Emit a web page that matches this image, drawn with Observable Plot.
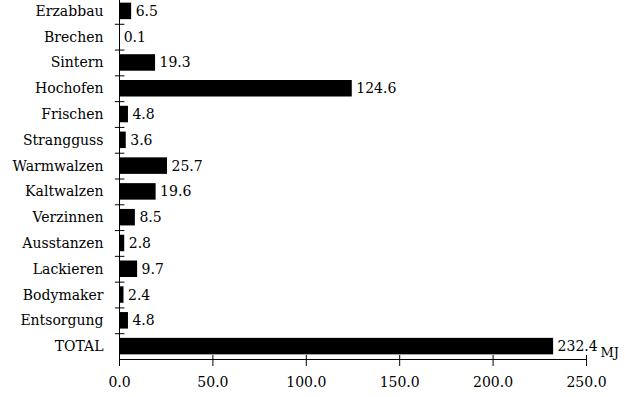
<!DOCTYPE html>
<html>
<head>
<meta charset="utf-8">
<script src="https://cdn.jsdelivr.net/npm/d3@7"></script>
<script src="https://cdn.jsdelivr.net/npm/@observablehq/plot@0.6"></script>
<style>
  html, body { margin: 0; padding: 0; background: #fff; }
  #chart svg { display: block; }
</style>
</head>
<body>
<div id="chart"></div>
<script>
const categories = ["Erzabbau", "Brechen", "Sintern", "Hochofen", "Frischen", "Strangguss", "Warmwalzen", "Kaltwalzen", "Verzinnen", "Ausstanzen", "Lackieren", "Bodymaker", "Entsorgung", "TOTAL"];
const values = [6.5, 0.1, 19.3, 124.6, 4.8, 3.6, 25.7, 19.6, 8.5, 2.8, 9.7, 2.4, 4.8, 232.4];
const xTicks = [0, 50, 100, 150, 200, 250];
const unitLabel = "MJ";

const data = categories.map((c, i) => ({category: c, value: values[i]}));

const W = 625, H = 397;
const mLeft = 119, mRight = 39, mBottom = 38, mTop = 0;
const yTop = -2, yBottom = H - mBottom;
const step = (yBottom - yTop) / categories.length;
const font = "DejaVu Serif";
const fs = 14;

const chart = Plot.plot({
  width: W,
  height: H,
  marginLeft: mLeft,
  marginRight: mRight,
  marginTop: mTop,
  marginBottom: mBottom,
  style: {fontFamily: font, fontSize: fs + "px", color: "#000", background: "#fff"},
  x: {domain: [0, 250]},
  y: {domain: categories, range: [yTop, yBottom], paddingInner: 0.36, paddingOuter: 0.18, round: false},
  marks: [
    Plot.barX(data, {x: "value", y: "category", fill: "#000"}),
    Plot.text(data, {x: "value", y: "category", text: d => d.value.toFixed(1), dx: 4, textAnchor: "start", fill: "#000", fontSize: fs}),
    Plot.frame({anchor: "left", stroke: "#000"}),
    Plot.frame({anchor: "bottom", stroke: "#000"}),
    Plot.ruleY(categories.slice(1), {y: d => d, x1: -2.2, x2: 2.9, dy: -step / 2, stroke: "#000"}),
    Plot.axisY({tickSize: 0, tickPadding: 16, label: null, fontSize: fs}),
    Plot.axisX(xTicks, {tickSize: 11, dy: -4, tickFormat: () => "", label: null}),
    Plot.axisX(xTicks, {tickSize: 0, tickPadding: 18, tickFormat: d3.format(".1f"), label: null, fontSize: fs}),
    Plot.text([unitLabel], {frameAnchor: "bottom-right", dx: 14, dy: -3, textAnchor: "start", fill: "#000", fontSize: 13})
  ]
});
document.getElementById("chart").appendChild(chart);
</script>
</body>
</html>
